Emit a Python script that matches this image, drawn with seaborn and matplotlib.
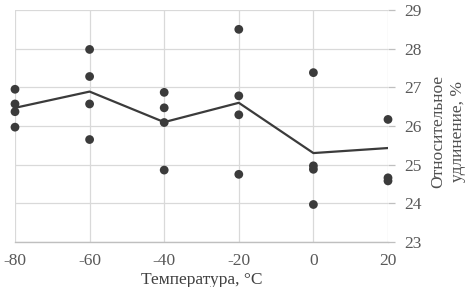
import matplotlib
matplotlib.use("Agg")
import matplotlib.pyplot as plt
import pandas as pd
import seaborn as sns

# measured points
POINT_TEMPS = [-80, -80, -80, -80,
               -60, -60, -60, -60,
               -40, -40, -40, -40,
               -20, -20, -20, -20,
               0, 0, 0, 0,
               20, 20, 20]
POINT_ELONG = [26.95, 26.57, 26.37, 25.97,
               27.98, 27.28, 26.57, 25.65,
               26.87, 26.47, 26.09, 24.86,
               28.50, 26.78, 26.29, 24.75,
               27.38, 24.97, 24.88, 23.97,
               26.17, 24.66, 24.58]

# trend line
LINE_TEMPS = [-80, -60, -40, -20, 0, 20]
LINE_ELONG = [26.47, 26.89, 26.10, 26.60, 25.30, 25.43]

X_TICKS = [-80, -60, -40, -20, 0, 20]
Y_TICKS = [23, 24, 25, 26, 27, 28, 29]

DARK = "#3b3b3b"
GRID = "#d9d9d9"
TEXT = "#595959"


def main() -> None:
    sns.set_style("white")
    plt.rcParams["font.family"] = ["Liberation Serif", "DejaVu Serif"]
    plt.rcParams["axes.unicode_minus"] = False

    points = pd.DataFrame({"temp": POINT_TEMPS, "elong": POINT_ELONG})
    line = pd.DataFrame({"temp": LINE_TEMPS, "elong": LINE_ELONG})

    fig = plt.figure(figsize=(4.66, 2.87), dpi=100)
    ax = fig.add_axes([15 / 466, 1 - 242 / 287, 373 / 466, 232 / 287])

    sns.lineplot(data=line, x="temp", y="elong", color=DARK, linewidth=1.6, ax=ax)
    sns.scatterplot(data=points, x="temp", y="elong", color=DARK, s=40,
                    edgecolor="none", ax=ax, clip_on=False, zorder=3)

    ax.set_xlim(-80, 20)
    ax.set_ylim(23, 29)
    ax.set_xticks(X_TICKS)
    ax.set_yticks(Y_TICKS)
    ax.grid(True, color=GRID, linewidth=0.9)
    ax.set_axisbelow(True)

    ax.yaxis.tick_right()
    for side in ["top", "left", "right"]:
        ax.spines[side].set_visible(False)
    ax.spines["bottom"].set_color("#bfbfbf")
    ax.spines["bottom"].set_linewidth(1.0)

    ax.tick_params(axis="x", length=0, pad=8, labelsize=12.5, labelcolor=TEXT)
    ax.tick_params(axis="y", which="both", right=True, length=5, width=0.9,
                   color="#bfbfbf", pad=7, labelsize=12.5, labelcolor=TEXT)
    ax.set_xlabel("Температура, °С", fontsize=12.5, color="#404040", labelpad=2)
    ax.set_ylabel("")

    fig.text(448 / 466, 1 - 131 / 287, "Относительное\nудлинение, %",
             rotation=90, ha="center", va="center", fontsize=12.5,
             color="#505050", linespacing=1.35)

    fig.savefig("out.png", dpi=100)
    plt.close(fig)


if __name__ == "__main__":
    main()
